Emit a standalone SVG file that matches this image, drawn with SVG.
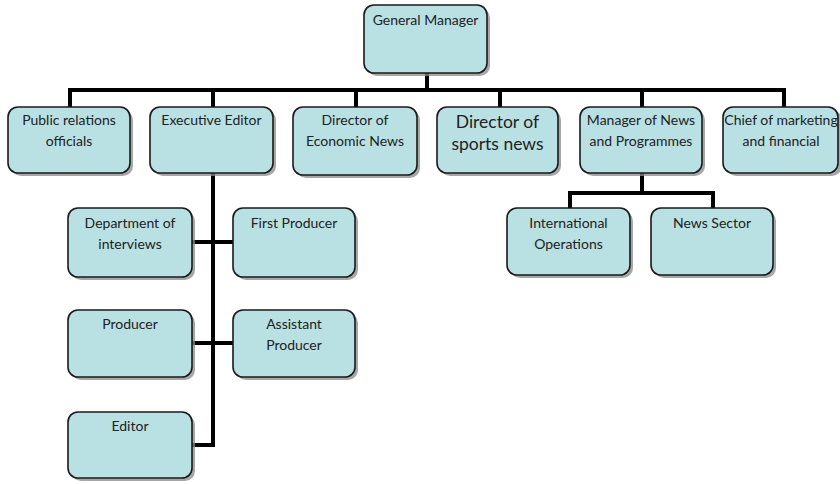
<svg xmlns="http://www.w3.org/2000/svg" width="840" height="484" viewBox="0 0 840 484">
<style>
.box{fill:#b9e0e3;stroke:#1a1a1a;stroke-width:1.6}
.sh{fill:#8a8a8a;opacity:0.75}
.t{font-family:Lato,"Noto Sans",sans-serif;font-size:14px;fill:#222;text-anchor:middle}
.big{font-size:17.5px}
.c{fill:none;stroke:#000;stroke-width:4}
</style>
<rect width="840" height="484" fill="#fff"/>
<g id="connectors">
<path class="c" d="M427 73V90M68 90H786M70 88V108M213 88V108M356 88V108M500 88V108M642 88V108M784 88V108"/>
<path class="c" d="M642 173V193M568 193H715M570 191V209M713 191V209"/>
<path class="c" d="M213 173V445M192 242H234M192 343H234M192 445H215"/>
</g>
<g id="n-gm"><rect class="sh" x="367" y="8" width="123" height="68" rx="10"/><rect class="box" x="364" y="5" width="123" height="68" rx="10"/><text class="t" x="425.5" y="25">General Manager</text></g>
<g id="n-pr"><rect class="sh" x="11" y="110" width="122" height="66" rx="10"/><rect class="box" x="8" y="107" width="122" height="66" rx="10"/><text class="t" x="69" y="125">Public relations</text><text class="t" x="69" y="146">officials</text></g>
<g id="n-ee"><rect class="sh" x="153" y="110" width="123" height="66" rx="10"/><rect class="box" x="150" y="107" width="123" height="66" rx="10"/><text class="t" x="211.5" y="125">Executive Editor</text></g>
<g id="n-den"><rect class="sh" x="296" y="110" width="124" height="68" rx="10"/><rect class="box" x="293" y="107" width="124" height="68" rx="10"/><text class="t" x="355" y="125">Director of</text><text class="t" x="355" y="146">Economic News</text></g>
<g id="n-dsn"><rect class="sh" x="440" y="110" width="121" height="66" rx="10"/><rect class="box" x="437" y="107" width="121" height="66" rx="10"/><text class="t big" x="497.5" y="128">Director of</text><text class="t big" x="497.5" y="150">sports news</text></g>
<g id="n-mnp"><rect class="sh" x="583" y="110" width="122" height="66" rx="10"/><rect class="box" x="580" y="107" width="122" height="66" rx="10"/><text class="t" x="641" y="125">Manager of News</text><text class="t" x="641" y="146">and Programmes</text></g>
<g id="n-cmf"><rect class="sh" x="726" y="110" width="116" height="66" rx="10"/><rect class="box" x="723" y="107" width="115" height="66" rx="10"/><text class="t" x="781" y="125">Chief of marketing</text><text class="t" x="781" y="146">and financial</text></g>
<g id="n-io"><rect class="sh" x="510" y="211" width="123" height="67" rx="10"/><rect class="box" x="507" y="208" width="123" height="67" rx="10"/><text class="t" x="568.5" y="228">International</text><text class="t" x="568.5" y="249">Operations</text></g>
<g id="n-ns"><rect class="sh" x="654" y="211" width="122" height="67" rx="10"/><rect class="box" x="651" y="208" width="122" height="67" rx="10"/><text class="t" x="712" y="228">News Sector</text></g>
<g id="n-doi"><rect class="sh" x="71" y="211" width="124" height="69" rx="10"/><rect class="box" x="68" y="208" width="124" height="69" rx="10"/><text class="t" x="130" y="228">Department of</text><text class="t" x="130" y="249">interviews</text></g>
<g id="n-fp"><rect class="sh" x="236" y="211" width="122" height="69" rx="10"/><rect class="box" x="233" y="208" width="122" height="69" rx="10"/><text class="t" x="294" y="228">First Producer</text></g>
<g id="n-p"><rect class="sh" x="71" y="313" width="124" height="67" rx="10"/><rect class="box" x="68" y="310" width="124" height="67" rx="10"/><text class="t" x="130" y="329">Producer</text></g>
<g id="n-ap"><rect class="sh" x="236" y="313" width="122" height="67" rx="10"/><rect class="box" x="233" y="310" width="122" height="67" rx="10"/><text class="t" x="294" y="329">Assistant</text><text class="t" x="294" y="350">Producer</text></g>
<g id="n-ed"><rect class="sh" x="71" y="415" width="124" height="66" rx="10"/><rect class="box" x="68" y="412" width="124" height="66" rx="10"/><text class="t" x="130" y="431">Editor</text></g>
</svg>
